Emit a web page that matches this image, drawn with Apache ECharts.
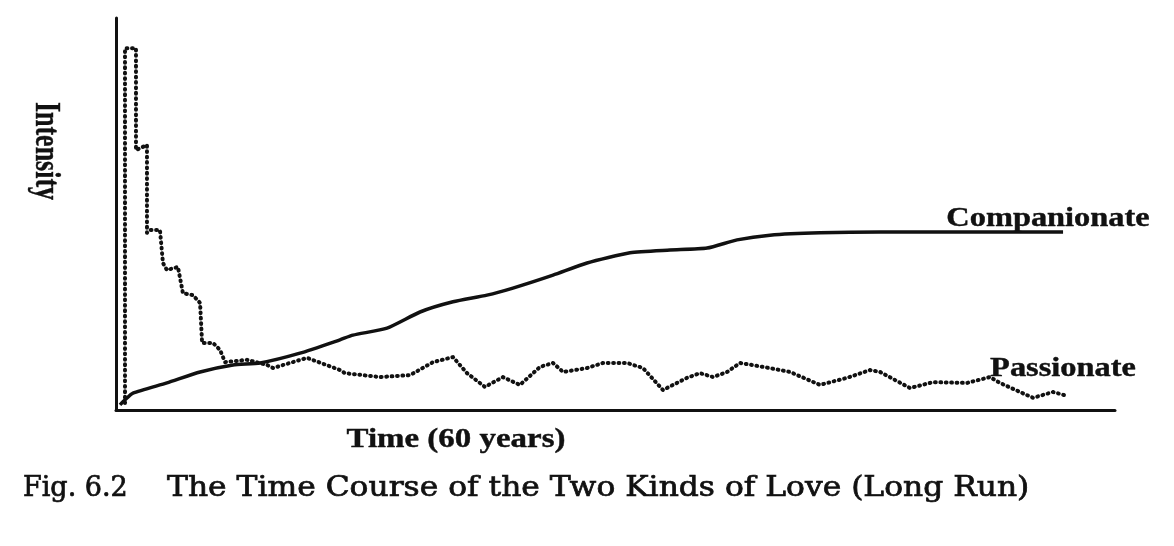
<!DOCTYPE html>
<html>
<head>
<meta charset="utf-8">
<script src="https://cdn.jsdelivr.net/npm/echarts@6/dist/echarts.min.js"></script>
<style>
html,body{margin:0;padding:0;background:#fff;}
#chart{width:1174px;height:546px;}
</style>
</head>
<body>
<div id="chart"></div>
<script>
// Time in years (0-60), intensity on a 0-100 scale
var passionateX = [0.54,0.54,1.20,1.20,1.86,1.86,2.04,2.64,2.82,3.06,3.72,4.02,4.62,5.05,5.17,5.83,6.25,6.55,7.87,9.07,9.43,11.47,13.45,13.75,15.86,17.66,19.04,20.24,21.08,22.16,23.24,24.26,25.47,26.25,26.85,28.29,29.25,30.69,31.65,32.85,34.29,35.08,35.86,36.70,37.48,38.86,40.48,42.28,43.90,45.29,45.89,47.69,49.07,51.11,52.49,53.09,55.08,56.28,57.12];
var passionateY = [1.8,92.3,92.3,66.3,67.6,45.2,45.9,45.9,37.5,35.7,36.5,29.8,29.3,27.3,17.1,17.1,15.3,12.2,12.8,11.5,10.7,13.3,10.2,9.4,8.4,8.9,12.2,13.5,9.4,5.9,8.4,6.4,11.0,12.0,9.7,10.7,12.0,12.0,10.7,5.1,8.2,9.4,8.4,9.7,12.0,11.0,9.7,6.4,8.2,10.2,9.7,5.6,7.1,6.9,8.4,6.9,3.1,4.6,3.6];
var companionateX = [0.24,0.54,1.02,3.06,5.05,7.03,8.65,11.05,13.45,14.23,16.28,18.26,20.24,22.28,23.84,26.25,28.29,30.87,33.27,35.50,37.30,39.28,42.28,45.89,56.88];
var companionateY = [1.3,2.6,4.3,6.9,9.7,11.5,12.0,14.5,17.9,19.1,20.9,25.0,27.6,29.3,31.1,34.4,37.5,40.1,40.8,41.3,43.4,44.6,45.2,45.4,45.4];
var seriesNames = ['Companionate','Passionate'];
var axisNames = {x:'Time (60 years)', y:'Intensity'};
var captionFig = 'Fig. 6.2';
var captionText = 'The Time Course of the Two Kinds of Love (Long Run)';

function pairs(xs, ys){ return xs.map(function(x,i){ return [x, ys[i]]; }); }

var chart = echarts.init(document.getElementById('chart'), null, {renderer:'canvas'});
var ink = '#111';
var labelFont = 'bold 27px "Liberation Serif", "Times New Roman", serif';
function txt(o, strokeW){
  o.style.fill = ink;
  if (strokeW) { o.style.stroke = ink; o.style.lineWidth = strokeW; }
  o.style.textAlign = o.style.align; o.style.textVerticalAlign = o.style.verticalAlign;
  return Object.assign({type:'text', silent:true}, o);
}
chart.setOption({
  backgroundColor:'#fff',
  animation:false,
  grid:{left:116, right:59, top:18, bottom:136},
  xAxis:{type:'value', min:0, max:60,
    axisLine:{show:true, lineStyle:{color:ink, width:3}},
    axisTick:{show:false}, axisLabel:{show:false}, splitLine:{show:false}},
  yAxis:{type:'value', min:0, max:100,
    axisLine:{show:true, lineStyle:{color:ink, width:3}},
    axisTick:{show:false}, axisLabel:{show:false}, splitLine:{show:false}},
  series:[
    {name:seriesNames[0], type:'line', data:pairs(companionateX, companionateY), symbol:'none', smooth:0.2,
     lineStyle:{color:ink, width:3.5}},
    {name:seriesNames[1], type:'line', data:pairs(passionateX, passionateY), symbol:'none', smooth:false,
     lineStyle:{color:ink, width:4, type:[0.8,4.6], cap:'round', join:'round'}}
  ],
  graphic:[
    txt({x:1048, y:219, scaleX:1.2, style:{text:seriesNames[0], font:labelFont, align:'center', verticalAlign:'middle'}}, 0.4),
    txt({x:1063, y:369, scaleX:1.2, style:{text:seriesNames[1], font:labelFont, align:'center', verticalAlign:'middle'}}, 0.4),
    txt({x:456, y:440, scaleX:1.22, style:{text:axisNames.x, font:labelFont, align:'center', verticalAlign:'middle'}}, 0.4),
    txt({x:45, y:151, rotation:-Math.PI/2, scaleY:1.4, style:{text:axisNames.y, font:'bold 26px "Liberation Serif", "Times New Roman", serif', align:'center', verticalAlign:'middle'}}, 0.3),
    txt({x:23, y:489, style:{text:captionFig, font:'27px "DejaVu Serif", serif', align:'left', verticalAlign:'middle'}}, 0.7),
    txt({x:167, y:489, scaleX:1.16, style:{text:captionText, font:'27px "DejaVu Serif", serif', align:'left', verticalAlign:'middle'}}, 0.7)
  ]
});
</script>
</body>
</html>
